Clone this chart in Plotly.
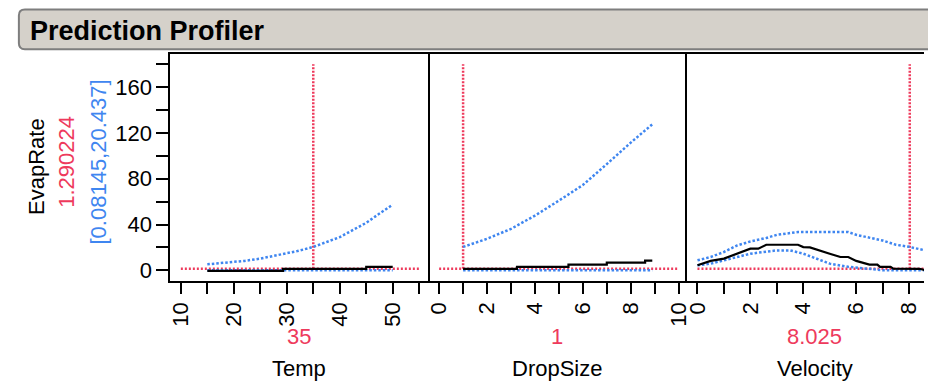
import plotly.graph_objects as go

# ---- current factor settings and prediction ----
response_name = "EvapRate"
pred_value = 1.290224
ci_text = "[0.08145,20.437]"
factor_names = ["Temp", "DropSize", "Velocity"]
factor_current = [35, 1, 8.025]
factor_current_text = ["35", "1", "8.025"]

# ---- Temp profile ----
temp_pred_x = [15, 29.3, 45, 50]
temp_pred_y = [-0.5, 1.29, 3.0, 3.0]
temp_hi_x = [15, 17, 20, 22, 25, 27, 30, 32, 35, 37, 40, 42, 45, 47, 50]
temp_hi_y = [5.2, 6.0, 7.3, 8.2, 10.2, 12.0, 14.5, 16.8, 20.4, 24.0, 29.0, 34.0, 41.5, 48.0, 57.4]
temp_lo_x = [15, 35, 50]
temp_lo_y = [0.0, 0.08, 0.1]

# ---- DropSize profile ----
drop_pred_x = [1, 3.25, 5.4, 7.0, 8.6, 8.9]
drop_pred_y = [1.29, 3.0, 5.0, 6.7, 8.4, 8.4]
drop_hi_x = [1, 2, 3, 4, 5, 6, 7, 8, 8.9]
drop_hi_y = [20.4, 27.5, 36.2, 47.8, 60.9, 74.5, 92.8, 111.6, 127.6]
drop_lo_x = [1, 5, 8.9]
drop_lo_y = [0.08, 0.05, 0.0]

# ---- Velocity profile ----
vel_pred_x = [0, 0.5, 1, 1.5, 2, 2.3, 2.6, 3, 3.8, 4, 4.25, 5, 5.4, 5.7, 6, 6.5,
              6.8, 6.9, 7.3, 7.4, 8, 8.025, 8.4, 8.6, 9]
vel_pred_y = [4.4, 8.2, 10.2, 14.5, 18.9, 18.9, 22.3, 22.3, 22.3, 20.3, 20.0, 14.5,
              11.6, 11.6, 8.2, 5.0, 5.0, 3.0, 3.0, 1.5, 1.3, 1.29, 1.29, 0.1, 0.1]
vel_hi_x = [0, 0.5, 1, 1.5, 2, 2.6, 3, 3.8, 5, 5.7, 6, 6.6, 7, 7.5, 8, 8.6, 9]
vel_hi_y = [8.7, 11.6, 16.0, 21.7, 25.2, 28.2, 31.0, 33.4, 33.4, 33.4, 31.0, 28.2,
            26.0, 22.3, 20.5, 17.4, 15.0]
vel_lo_x = [0, 0.5, 1, 1.5, 2, 3, 3.5, 4, 4.5, 5, 5.7, 6.5, 7, 9]
vel_lo_y = [4.4, 5.8, 8.7, 11.6, 14.5, 17.4, 17.4, 14.5, 10.2, 5.8, 3.0, 1.2, 0.1, 0.05]

# ---- axes ----
temp_ticks = [10, 20, 30, 40, 50]
temp_minor = [15, 25, 35, 45, 55]
drop_ticks = [0, 2, 4, 6, 8, 10]
drop_minor = [1, 3, 5, 7, 9]
vel_ticks = [0, 2, 4, 6, 8]
vel_minor = [1, 3, 5, 7, 9]
y_ticks = [0, 40, 80, 120, 160]
y_minor = [20, 60, 100, 140, 180]

# reference line extents per factor
ref_x_span = [[10, 55], [0, 10], [0, 9]]
ref_top = 180

RED = "#EE3A5C"
BLUE = "#3F86F0"
FONT = "Liberation Sans, Arial, sans-serif"

W, H = 928, 384
px = lambda v: v / W
py = lambda v: 1 - v / H

panels = [
    (temp_pred_x, temp_pred_y, temp_hi_x, temp_hi_y, temp_lo_x, temp_lo_y),
    (drop_pred_x, drop_pred_y, drop_hi_x, drop_hi_y, drop_lo_x, drop_lo_y),
    (vel_pred_x, vel_pred_y, vel_hi_x, vel_hi_y, vel_lo_x, vel_lo_y),
]

fig = go.Figure()
for i, (pxs, pys, hx, hy, lx, ly) in enumerate(panels):
    xa = "x" if i == 0 else f"x{i+1}"
    ya = "y" if i == 0 else f"y{i+1}"
    # current-setting reference lines
    fig.add_trace(go.Scatter(x=ref_x_span[i], y=[pred_value, pred_value], mode="lines",
                             line=dict(color=RED, width=2.5, dash="2px,2px"),
                             xaxis=xa, yaxis=ya, hoverinfo="skip"))
    fig.add_trace(go.Scatter(x=[factor_current[i], factor_current[i]], y=[pred_value, ref_top],
                             mode="lines", line=dict(color=RED, width=2.5, dash="2px,1.5px"),
                             xaxis=xa, yaxis=ya, hoverinfo="skip"))
    # confidence bounds
    fig.add_trace(go.Scatter(x=hx, y=hy, mode="lines",
                             line=dict(color=BLUE, width=2.5, dash="2.5px,2px"),
                             xaxis=xa, yaxis=ya))
    fig.add_trace(go.Scatter(x=lx, y=ly, mode="lines",
                             line=dict(color=BLUE, width=2.5, dash="2.5px,2px"),
                             xaxis=xa, yaxis=ya))
    # prediction trace
    fig.add_trace(go.Scatter(x=pxs, y=pys, mode="lines", line_shape="hv" if i < 2 else "linear",
                             line=dict(color="black", width=2.2),
                             xaxis=xa, yaxis=ya))

# panel geometry in pixels
left, d1, d2, right = 169.5, 429, 689, 928
top, bottom = 54, 282
yrange = [-8.96, 189.3]
xranges = [[8.03, 56.7], [-0.456, 10.33], [-0.413, 8.563]]
domains = [[px(left), px(d1)], [px(d1), px(d2)], [px(d2), 1.0]]
tick_sets = [(temp_ticks, temp_minor), (drop_ticks, drop_minor), (vel_ticks, vel_minor)]

axis_font = dict(family=FONT, size=22, color="black")
for i in range(3):
    key = "xaxis" if i == 0 else f"xaxis{i+1}"
    fig.layout[key] = dict(
        domain=domains[i], range=xranges[i], anchor="y" if i == 0 else f"y{i+1}",
        showline=True, linecolor="black", linewidth=2, mirror=True,
        showgrid=False, zeroline=False,
        tickvals=tick_sets[i][0], ticktext=[str(t) for t in tick_sets[i][0]],
        ticks="outside", ticklen=11, tickwidth=2, tickcolor="black",
        tickangle=-90, tickfont=axis_font,
        minor=dict(tickvals=tick_sets[i][1], ticks="outside", ticklen=11,
                   tickwidth=2, tickcolor="black", showgrid=False),
        fixedrange=True,
    )
    ykey = "yaxis" if i == 0 else f"yaxis{i+1}"
    # panel 1 draws its left and right borders; panel 3 draws the divider on its left
    ydict = dict(
        domain=[py(bottom), py(top)], range=yrange,
        anchor="x" if i == 0 else f"x{i+1}",
        showline=(i != 1), linecolor="black", linewidth=2, mirror=(i == 0),
        showgrid=False, zeroline=False, fixedrange=True,
    )
    if i == 0:
        ydict.update(tickvals=y_ticks, ticktext=[str(t) for t in y_ticks],
                     ticks="outside", ticklen=12, tickwidth=2, tickcolor="black",
                     tickfont=axis_font,
                     minor=dict(tickvals=y_minor, ticks="outside", ticklen=12,
                                tickwidth=2, tickcolor="black", showgrid=False))
    else:
        ydict.update(showticklabels=False, ticks="", matches="y")
    fig.layout[ykey] = ydict

# title bar with rounded left corners
bx0, by0, by1, r = 17, 9.5, 49.5, 6
path = (f"M {px(bx0 + r)},{py(by0)} L {px(940)},{py(by0)} L {px(940)},{py(by1)} "
        f"L {px(bx0 + r)},{py(by1)} Q {px(bx0)},{py(by1)} {px(bx0)},{py(by1 - r)} "
        f"L {px(bx0)},{py(by0 + r)} Q {px(bx0)},{py(by0)} {px(bx0 + r)},{py(by0)} Z")
fig.add_shape(type="path", path=path, xref="paper", yref="paper",
              fillcolor="#D5D1CA", line=dict(color="#7E7E7E", width=2), layer="below")

annotations = [
    dict(text="<b>Prediction Profiler</b>", x=px(26), y=py(31), xanchor="left", yanchor="middle",
         font=dict(family=FONT, size=27, color="black")),
    dict(text=response_name, x=px(34), y=py(167), textangle=-90,
         font=dict(family=FONT, size=22, color="black")),
    dict(text=f"{pred_value:.6f}", x=px(65), y=py(163), textangle=-90,
         font=dict(family=FONT, size=22, color=RED)),
    dict(text=ci_text, x=px(97), y=py(163), textangle=-90,
         font=dict(family=FONT, size=22, color=BLUE)),
]
centers = [299, 559, 818]
for i in range(3):
    annotations.append(dict(text=factor_current_text[i], x=px(centers[i]), y=py(338),
                            font=dict(family=FONT, size=22, color=RED)))
    annotations.append(dict(text=factor_names[i], x=px(centers[i]), y=py(370),
                            font=dict(family=FONT, size=22, color="black")))
for a in annotations:
    a.setdefault("xanchor", "center")
    a.setdefault("yanchor", "middle")
    a.update(xref="paper", yref="paper", showarrow=False)
fig.update_layout(annotations=annotations)

fig.update_layout(width=W, height=H, margin=dict(l=0, r=0, t=0, b=0),
                  paper_bgcolor="white", plot_bgcolor="white", showlegend=False)

fig.write_html("out.html", config={"displayModeBar": False})
